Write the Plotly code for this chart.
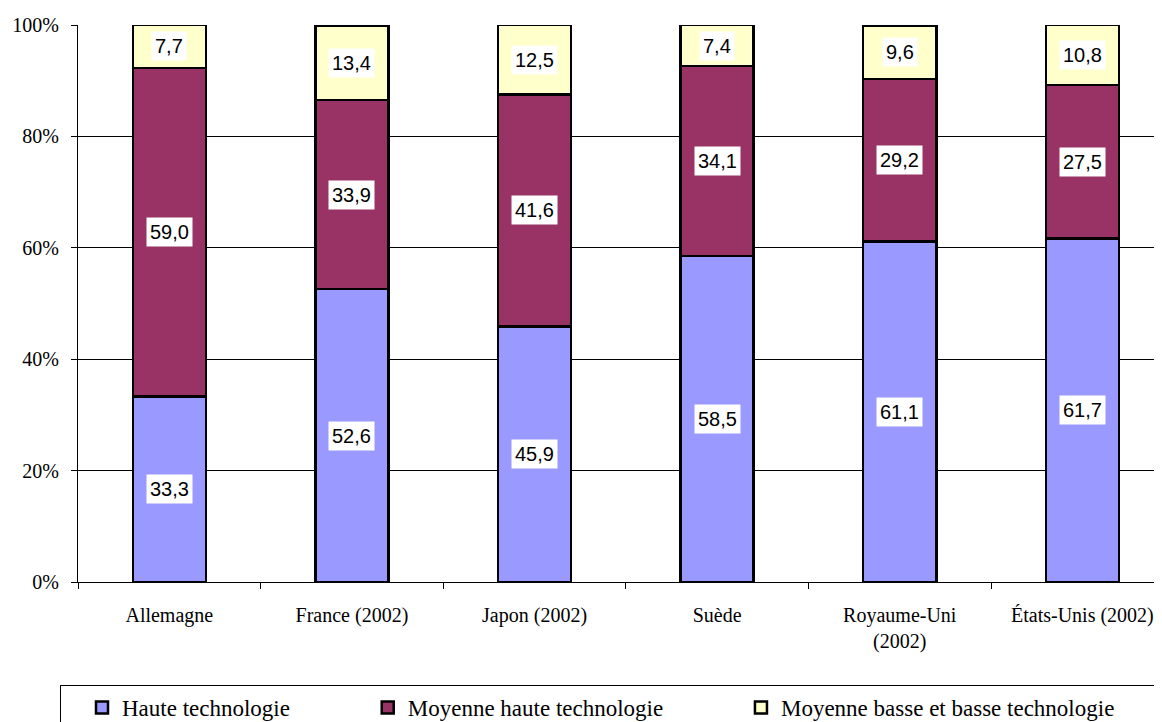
import plotly.graph_objects as go

countries = ["Allemagne", "France (2002)", "Japon (2002)", "Suède",
             "Royaume-Uni<br>(2002)", "États-Unis (2002)"]
haute = [33.3, 52.6, 45.9, 58.5, 61.1, 61.7]
moyenne_haute = [59.0, 33.9, 41.6, 34.1, 29.2, 27.5]
basse = [7.7, 13.4, 12.5, 7.4, 9.6, 10.8]

series_names = ["Haute technologie", "Moyenne haute technologie",
                "Moyenne basse et basse technologie"]
series_values = [haute, moyenne_haute, basse]
series_colors = ["#9999FF", "#993366", "#FFFFCC"]

SERIF = "Liberation Serif"
SANS = "Liberation Sans"

NB = "\u00a0"
legend_pad = [NB * 9, NB * 9, NB * 6]

fig = go.Figure()
for name, vals, color, pad in zip(series_names, series_values, series_colors, legend_pad):
    fig.add_trace(go.Bar(
        x=countries, y=vals, name=name + pad,
        marker=dict(color=color, line=dict(color="black", width=2.5)),
    ))

# value labels with white boxes, centred in each segment
annotations = []
for i, c in enumerate(countries):
    base = 0
    for vals in series_values:
        v = vals[i]
        annotations.append(dict(
            x=c, y=base + v / 2, xref="x", yref="y",
            text=f"{v:.1f}".replace(".", ","), showarrow=False,
            bgcolor="white", borderpad=3,
            font=dict(family=SANS, size=20, color="black"),
        ))
        base += v

# page body has an 8px margin, so the figure is 8px smaller than the window
fig.update_layout(
    width=1154, height=714,
    margin=dict(l=70, r=0, t=17, b=140, autoexpand=False),
    barmode="stack", bargap=0.6,
    plot_bgcolor="white", paper_bgcolor="white",
    font=dict(family=SERIF, size=20, color="black"),
    annotations=annotations,
    showlegend=True,
    legend=dict(
        orientation="h", x=-0.0166, xanchor="left", y=-0.185, yanchor="top",
        bordercolor="black", borderwidth=1, indentation=21,
        font=dict(family=SERIF, size=23, color="black"),
        traceorder="normal",
    ),
)
fig.update_xaxes(
    range=[-0.5, 5.436], showline=True, linecolor="black", linewidth=1,
    ticks="outside", tickson="boundaries", ticklen=6, tickcolor="black",
    ticklabelstandoff=15, showgrid=False, automargin=False,
    tickfont=dict(family=SERIF, size=20),
)
fig.update_yaxes(
    range=[0, 100], dtick=20, ticksuffix="%", showline=True, linecolor="black",
    linewidth=1, ticks="outside", ticklen=6, tickcolor="black",
    gridcolor="black", gridwidth=1, ticklabelstandoff=8, zeroline=False,
    automargin=False, tickfont=dict(family=SERIF, size=20),
)

fig.write_html("out.html")
